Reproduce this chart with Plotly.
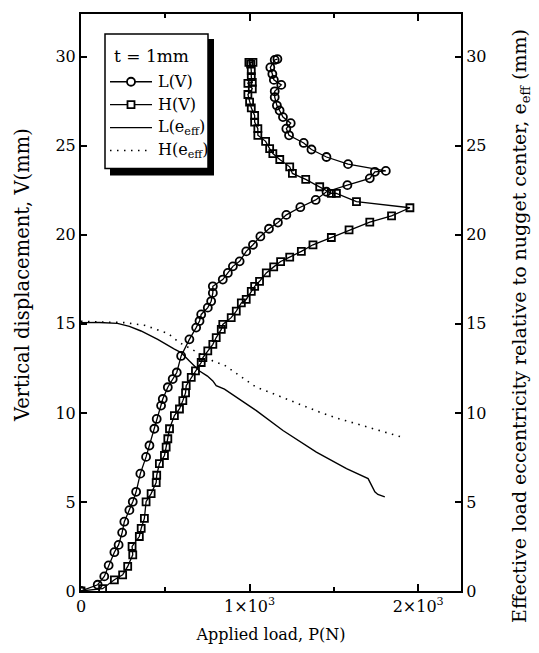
import plotly.graph_objects as go

# Load-displacement curves (loading then unloading), P in N, V in mm
L_P = [0, 99, 138, 164, 198, 223, 244, 257, 287, 307, 327, 352, 386, 406, 435, 449,
       475, 485, 515, 544, 568, 594, 643, 683, 703, 713, 752, 772, 782, 782, 841, 871,
       901, 941, 980, 1020, 1064, 1115, 1168, 1218, 1301, 1392, 1456, 1580, 1713, 1743,
       1808,
       1584, 1456, 1367, 1321, 1234, 1218, 1244, 1198, 1178, 1162, 1149, 1149, 1188,
       1144, 1135, 1123, 1149, 1165]
L_V = [0, 0.35, 0.82, 1.44, 2.18, 2.59, 3.28, 3.89, 4.54, 5.01, 5.57, 6.59, 7.53, 8.17,
       9.11, 9.66, 10.41, 10.78, 11.44, 11.90, 12.27, 13.20, 14.13, 14.79, 15.16, 15.53,
       15.91, 16.27, 16.74, 17.11, 17.49, 17.86, 18.23, 18.51, 19.07, 19.44, 19.91, 20.34,
       20.69, 21.12, 21.55, 21.96, 22.42, 22.79, 23.17, 23.54, 23.59,
       23.97, 24.37, 24.79, 25.16, 25.59, 25.96, 26.27, 26.61, 26.98, 27.26, 27.73, 28.06,
       28.42, 28.70, 29.03, 29.40, 29.82, 29.87]

H_P = [0, 128, 198, 247, 277, 307, 303, 346, 357, 376, 386, 416, 446, 449, 465, 495,
       505, 515, 525, 554, 584, 604, 620, 624, 654, 679, 713, 723, 752, 782, 802, 832,
       841, 891, 921, 951, 980, 1010, 1030, 1059, 1099, 1143, 1184, 1238, 1307, 1376,
       1485, 1590, 1713, 1842, 1951,
       1634, 1515, 1485, 1416, 1333, 1254, 1238, 1179, 1138, 1119, 1095, 1049, 1049,
       1030, 1030, 1010, 1000, 990, 1016, 990, 1016, 1010, 1010, 1006, 996, 1020]
H_V = [0, 0.13, 0.63, 0.91, 1.38, 2.03, 2.50, 3.06, 3.52, 4.08, 5.01, 5.47, 6.09, 6.50,
       7.15, 7.61, 8.08, 8.55, 9.11, 9.85, 10.22, 10.69, 11.12, 11.53, 11.99, 12.36,
       12.83, 13.11, 13.48, 13.85, 14.23, 14.69, 14.97, 15.35, 15.72, 16.18, 16.37, 16.83,
       17.11, 17.39, 17.86, 18.20, 18.50, 18.75, 19.07, 19.44, 19.85, 20.28, 20.71, 21.06,
       21.52,
       21.86, 22.33, 22.33, 22.70, 23.11, 23.45, 23.82, 24.23, 24.56, 24.84, 25.25, 25.59,
       25.96, 26.33, 26.70, 27.13, 27.45, 27.88, 28.20, 28.51, 28.56, 28.88, 29.22, 29.59,
       29.68, 29.68]

# Effective load eccentricity vs applied load
Le_P = [0, 109, 216, 287, 356, 455, 554, 594, 643, 703, 750, 782, 802, 851, 1040, 1198,
        1396, 1575, 1703, 1719, 1743, 1761, 1802]
Le_e = [15.07, 15.08, 15.03, 14.86, 14.60, 14.13, 13.58, 13.39, 12.92, 12.35, 12.07,
        11.80, 11.53, 11.34, 10.13, 9.01, 7.80, 6.87, 6.31, 6.03, 5.57, 5.42, 5.29]

He_P = [0, 257, 376, 446, 515, 584, 614, 703, 782, 851, 1000, 1040, 1119, 1238, 1317,
        1416, 1535, 1703, 1921]
He_e = [15.14, 15.07, 14.92, 14.69, 14.47, 13.95, 13.80, 13.35, 12.92, 12.68, 11.72,
        11.44, 11.16, 10.69, 10.41, 10.04, 9.66, 9.20, 8.59]

x_ticks = [0, 1000, 2000]
x_tick_text = ["0", "1×10<sup>3</sup>", "2×10<sup>3</sup>"]
y_ticks = [0, 5, 10, 15, 20, 25, 30]

legend_title = "t = 1mm"
legend_names = ["L(V)", "H(V)", "L(e<sub>eff</sub>)", "H(e<sub>eff</sub>)"]

x_title = "Applied load, P(N)"
y_title = "Vertical displacement, V(mm)"
y2_title = "Effective load eccentricity relative to nugget center, e<sub>eff</sub> (mm)"

FONT = "DejaVu Serif"
X_MAX = 2254
Y_MAX = 32.4
DOT = "1.5px,5.5px"

W, H = 539, 653
M_L, M_R, M_T, M_B = 81, 78, 13, 61
PLOT_W = W - M_L - M_R
PLOT_H = H - M_T - M_B


def px(x):
    """Horizontal pixel position -> paper coordinate."""
    return (x - M_L) / PLOT_W


def py(y):
    """Vertical pixel position (from top) -> paper coordinate."""
    return (H - M_B - y) / PLOT_H


fig = go.Figure()
fig.add_trace(go.Scatter(
    x=L_P, y=L_V, name=legend_names[0], mode="lines+markers",
    line=dict(color="black", width=1.3),
    marker=dict(symbol="circle-open", size=8, color="black", line=dict(width=1.8)),
))
fig.add_trace(go.Scatter(
    x=H_P, y=H_V, name=legend_names[1], mode="lines+markers",
    line=dict(color="black", width=1.3),
    marker=dict(symbol="square-open", size=7, color="black", line=dict(width=1.8)),
))
fig.add_trace(go.Scatter(
    x=Le_P, y=Le_e, name=legend_names[2], mode="lines", yaxis="y2",
    line=dict(color="black", width=1.4),
))
fig.add_trace(go.Scatter(
    x=He_P, y=He_e, name=legend_names[3], mode="lines", yaxis="y2",
    line=dict(color="black", width=1.6, dash=DOT),
))

# Boxed key with a drop shadow
shapes = [
    dict(type="rect", xref="paper", yref="paper", layer="above",
         x0=px(110), x1=px(214), y0=py(175), y1=py(38),
         fillcolor="black", line=dict(width=0)),
    dict(type="rect", xref="paper", yref="paper", layer="above",
         x0=px(105), x1=px(208), y0=py(168), y1=py(33),
         fillcolor="white", line=dict(color="black", width=1.5)),
]
annotations = [
    dict(text=legend_title, xref="paper", yref="paper", x=px(112), y=py(55),
         xanchor="left", yanchor="middle", showarrow=False,
         font=dict(family=FONT, size=17, color="black")),
]
row_y = [81, 104, 127, 150]
glyph = ["circle", "square", "solid", "dot"]
for name, ry, g in zip(legend_names, row_y, glyph):
    shapes.append(dict(
        type="line", xref="paper", yref="paper", layer="above",
        x0=px(110), x1=px(152), y0=py(ry), y1=py(ry),
        line=dict(color="black", width=1.6 if g == "dot" else 1.3,
                  dash=DOT if g == "dot" else "solid"),
    ))
    if g in ("circle", "square"):
        half = 4 if g == "circle" else 3.5
        shapes.append(dict(
            type="circle" if g == "circle" else "rect",
            xref="paper", yref="paper", layer="above",
            xsizemode="pixel", ysizemode="pixel",
            xanchor=px(131), yanchor=py(ry),
            x0=-half, x1=half, y0=-half, y1=half,
            fillcolor="white", line=dict(color="black", width=1.8),
        ))
    annotations.append(dict(
        text=name, xref="paper", yref="paper", x=px(156), y=py(ry),
        xanchor="left", yanchor="middle", showarrow=False,
        font=dict(family=FONT, size=16, color="black"),
    ))

# Vertical axis titles
annotations.append(dict(
    text=y_title, xref="paper", yref="paper", x=px(22), y=py(275),
    xanchor="center", yanchor="middle", textangle=-90, showarrow=False,
    font=dict(family=FONT, size=19.5, color="black"),
))
annotations.append(dict(
    text=y2_title, xref="paper", yref="paper", x=px(521), y=py(326),
    xanchor="center", yanchor="middle", textangle=-90, showarrow=False,
    font=dict(family=FONT, size=19, color="black"),
))

axis_common = dict(
    showgrid=False, zeroline=False, showline=True, linecolor="black", linewidth=2,
    ticks="inside", tickcolor="black", tickwidth=1.5,
    tickfont=dict(family=FONT, size=16, color="black"),
)

fig.update_layout(
    width=W, height=H,
    margin=dict(l=M_L, r=M_R, t=M_T, b=M_B),
    paper_bgcolor="white", plot_bgcolor="white",
    font=dict(family=FONT, color="black"),
    showlegend=False,
    shapes=shapes,
    annotations=annotations,
    xaxis=dict(
        **axis_common, range=[0, X_MAX], tickvals=x_ticks, ticktext=x_tick_text,
        ticklen=7, mirror="ticks",
        minor=dict(ticks="inside", tickvals=[500, 1500], ticklen=4, tickcolor="black",
                   tickwidth=1.5),
        title=dict(text=x_title, font=dict(family=FONT, size=16), standoff=14),
    ),
    yaxis=dict(
        **axis_common, range=[0, Y_MAX], tickvals=y_ticks, ticklen=6,
    ),
    yaxis2=dict(
        **axis_common, range=[0, Y_MAX], tickvals=y_ticks, ticklen=6,
        overlaying="y", side="right",
    ),
)

fig.write_html("out.html")
